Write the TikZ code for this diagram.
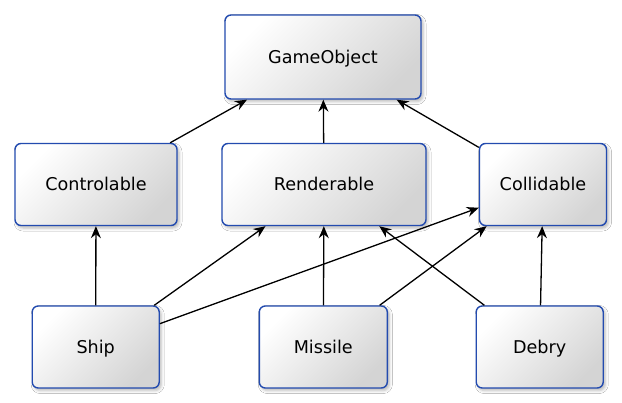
\documentclass[tikz,border=0pt]{standalone}
\usepackage{fontspec}
\setmainfont{DejaVu Sans}
\usetikzlibrary{arrows.meta,shadows.blur}
\definecolor{boxborder}{RGB}{35,75,175}
\definecolor{boxdark}{RGB}{212,212,212}
\tikzset{
  cls/.style={draw=boxborder, line width=1.4pt, rounded corners=6pt,
    top color=white, bottom color=boxdark, shading angle=45,
    minimum height=82pt, inner sep=0pt, font=\fontsize{17.6}{20}\selectfont,
    text height=12.8pt, text depth=0pt,
    blur shadow={shadow xshift=2pt, shadow yshift=-2.5pt, shadow blur radius=3pt, shadow opacity=28}},
  inh/.style={-{Stealth[length=12pt,width=10pt,inset=4pt]}, line width=1.3pt, black}
}
\begin{document}
\begin{tikzpicture}[x=1pt,y=-1pt]
\useasboundingbox[fill=white] (0,0) rectangle (622,403);
\node[cls, minimum width=196pt, minimum height=84pt] (go) at (323,57) {GameObject};
\node[cls, minimum width=162pt] (ctrl) at (96,184.5) {Controlable};
\node[cls, minimum width=204pt] (rend) at (324,184.5) {Renderable};
\node[cls, minimum width=127pt] (coll) at (543,184.5) {Collidable};
\node[cls, minimum width=127pt] (ship) at (95.7,347) {Ship};
\node[cls, minimum width=128pt] (miss) at (323.3,347) {Missile};
\node[cls, minimum width=127pt] (deb) at (539.7,347) {Debry};
\draw[inh] (ctrl) -- (go);
\draw[inh] (rend) -- (go);
\draw[inh] (coll) -- (go);
\draw[inh] (ship) -- (ctrl);
\draw[inh] (ship) -- (rend);
\draw[inh] (ship) -- (coll);
\draw[inh] (miss) -- (rend);
\draw[inh] (miss) -- (coll);
\draw[inh] (deb) -- (rend);
\draw[inh] (deb) -- (coll);
\end{tikzpicture}
\end{document}
